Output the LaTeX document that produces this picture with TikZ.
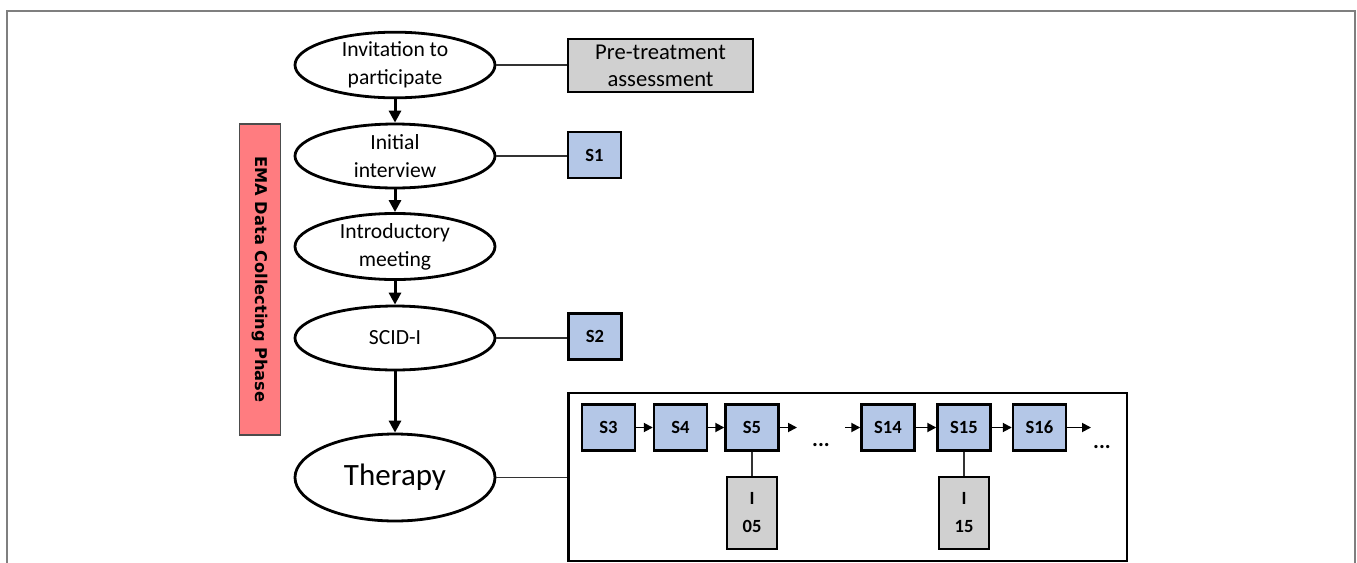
\documentclass[tikz,border=0pt]{standalone}
\usepackage{fontspec}
\setmainfont{Carlito}
\newfontfamily\dvfont{DejaVu Sans}
\usetikzlibrary{shapes.geometric,arrows.meta}
\definecolor{sblue}{HTML}{B4C7E7}
\definecolor{sgray}{HTML}{D0D0D0}
\definecolor{sred}{HTML}{FF7C80}
\definecolor{framegray}{HTML}{7F7F7F}
\tikzset{
  ell/.style={ellipse, draw=black, line width=1.4pt, fill=white, minimum width=100pt, minimum height=32pt, inner sep=0pt, align=center, font=\fontsize{10.8}{14}\selectfont},
  sbox/.style={rectangle, draw=black, line width=1.2pt, fill=sblue, minimum width=26.5pt, minimum height=23pt, inner sep=0pt, font=\fontsize{9.3}{11}\selectfont\bfseries},
  ibox/.style={rectangle, draw=black, line width=1.2pt, fill=sgray, minimum width=25pt, minimum height=36pt, inner sep=0pt, align=center, font=\fontsize{9.3}{14}\selectfont\bfseries},
  flowarrow/.style={line width=1.5pt, -{Triangle[length=6pt,width=6pt]}},
  smallarrow/.style={line width=0.9pt, -{Triangle[length=4.5pt,width=4.5pt]}},
  link/.style={line width=0.6pt, draw=black!80},
  dots/.style={font=\fontsize{11}{11}\selectfont\bfseries, inner sep=0pt}
}
\begin{document}
\begin{tikzpicture}[x=0.5pt,y=-0.5pt]
\useasboundingbox (0,0) rectangle (1357,563);
\fill[white] (0,0) rectangle (1357,563);
% outer frame
\draw[framegray, line width=0.8pt] (7,563) -- (7,11) -- (1355,11) -- (1355,563);

% red phase bar
\node[rectangle, draw=black!70, line width=0.6pt, fill=sred, minimum width=20.5pt, minimum height=155.5pt, inner sep=0pt] (phase) at (260,279.5) {};
\node[rotate=-90, font=\dvfont\bfseries\fontsize{8.1}{9}\selectfont] (phaselabel) at (phase.center) {EMA Data Collecting Phase};

% ellipses
\node[ell] (inv) at (395,65) {Invitation to\\participate};
\node[ell] (ini) at (395,156) {Initial\\interview};
\node[ell] (intro) at (395,246.5) {Introductory\\meeting};
\node[ell] (scid) at (395,338) {SCID-I};
\node[ell, minimum height=43.5pt, font=\fontsize{15.5}{18}\selectfont] (ther) at (395,477.5) {Therapy};

\draw[flowarrow] (inv) -- (ini);
\draw[flowarrow] (ini) -- (intro);
\draw[flowarrow] (intro) -- (scid);
\draw[flowarrow] (scid) -- (ther);

% side boxes
\node[rectangle, draw=black, line width=1.2pt, fill=sgray, minimum width=92.5pt, minimum height=26.5pt, inner sep=0pt, align=center, font=\fontsize{11.3}{13.5}\selectfont] (pre) at (660.5,65.5) {Pre-treatment\\assessment};
\node[sbox] (s1) at (594.5,155) {S1};
\node[sbox] (s2) at (595,336.5) {S2};

\draw[link] (inv.east) -- (inv.east -| pre.west);
\draw[link] (ini.east) -- (ini.east -| s1.west);
\draw[link] (scid.east) -- (scid.east -| s2.west);

% therapy box
\node[rectangle, draw=black, line width=1.4pt, minimum width=279.25pt, minimum height=84pt, inner sep=0pt] (tbox) at (847.75,477) {};
\draw[link] (ther.east) -- (ther.east -| tbox.west);

\node[sbox] (s3) at (608.5,427.5) {S3};
\node[sbox] (s4) at (680.5,427.5) {S4};
\node[sbox] (s5) at (752,427.5) {S5};
\node[sbox] (s14) at (888,427.5) {S14};
\node[sbox] (s15) at (964,427.5) {S15};
\node[sbox] (s16) at (1039.5,427.5) {S16};
\node[ibox] (i05) at (752,513) {I\\05};
\node[ibox] (i15) at (964,513) {I\\15};

\coordinate (a5) at (797,427.5);
\coordinate (b14) at (845,427.5);
\coordinate (a16) at (1091,427.5);

\draw[smallarrow] (s3) -- (s4);
\draw[smallarrow] (s4) -- (s5);
\draw[smallarrow] (s5) -- (a5);
\draw[smallarrow] (b14) -- (s14);
\draw[smallarrow] (s14) -- (s15);
\draw[smallarrow] (s15) -- (s16);
\draw[smallarrow] (s16) -- (a16);
\draw[link] (s5) -- (i05);
\draw[link] (s15) -- (i15);

\node[dots] (d1) at (821,445) {...};
\node[dots] (d2) at (1102,447) {...};
\end{tikzpicture}
\end{document}
